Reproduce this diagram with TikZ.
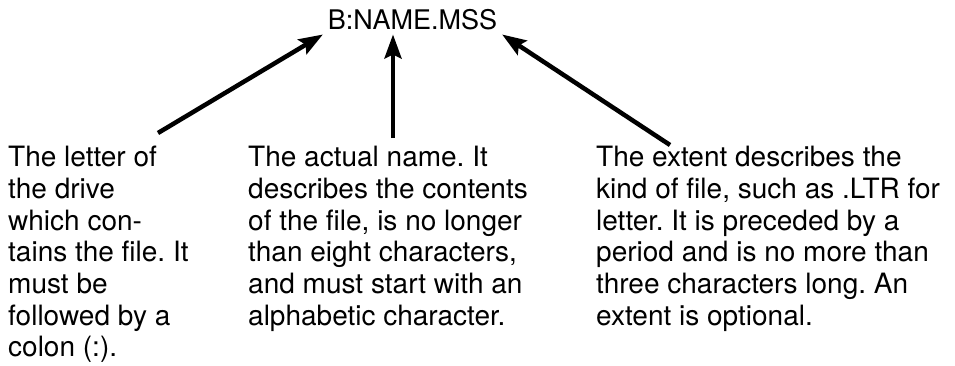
\documentclass[tikz,border=0pt]{standalone}
\usepackage{fontspec}
\setmainfont{TeX Gyre Heros}
\usetikzlibrary{arrows.meta}
\tikzset{>={Stealth[length=24pt,width=17pt,inset=4pt]}}
\frenchspacing

\begin{document}
\begin{tikzpicture}[x=1pt,y=-1pt,
  note/.style={anchor=north west, inner sep=0pt, align=left,
    font=\fontsize{28}{31.7}\selectfont},
  pointer/.style={->, line width=4.5pt}]

  \useasboundingbox (0,0) rectangle (955,365);

  \node[inner sep=5pt, outer sep=0pt, anchor=base,
    font=\fontsize{27}{32}\selectfont] (file) at (412.5,29) {B:NAME.MSS};

  \node[note] (drive) at (8,146)
  {The letter of\\the drive\\which con-\\tains the file. It\\must be\\followed by a\\colon (:).};
  \node[note] (name) at (248,146)
  {The actual name. It\\describes the contents\\of the file, is no longer\\than eight characters,\\and must start with an\\alphabetic character.};
  \node[note] (ext) at (596,146)
  {The extent describes the\\kind of file, such as .LTR for\\letter. It is preceded by a\\period and is no more than\\three characters long. An\\extent is optional.};

  \coordinate (drivetail) at (158,133);
  \coordinate (nametail) at (393,138);
  \coordinate (exttail) at (670,145);

  \draw[pointer] (drivetail) -- (file.south west); %% drive -> letter
  \draw[pointer] (nametail) -- (nametail |- file.south); %% name -> NAME
  \draw[pointer] (exttail) -- (file.south east); %% extent -> MSS

\end{tikzpicture}
\end{document}
